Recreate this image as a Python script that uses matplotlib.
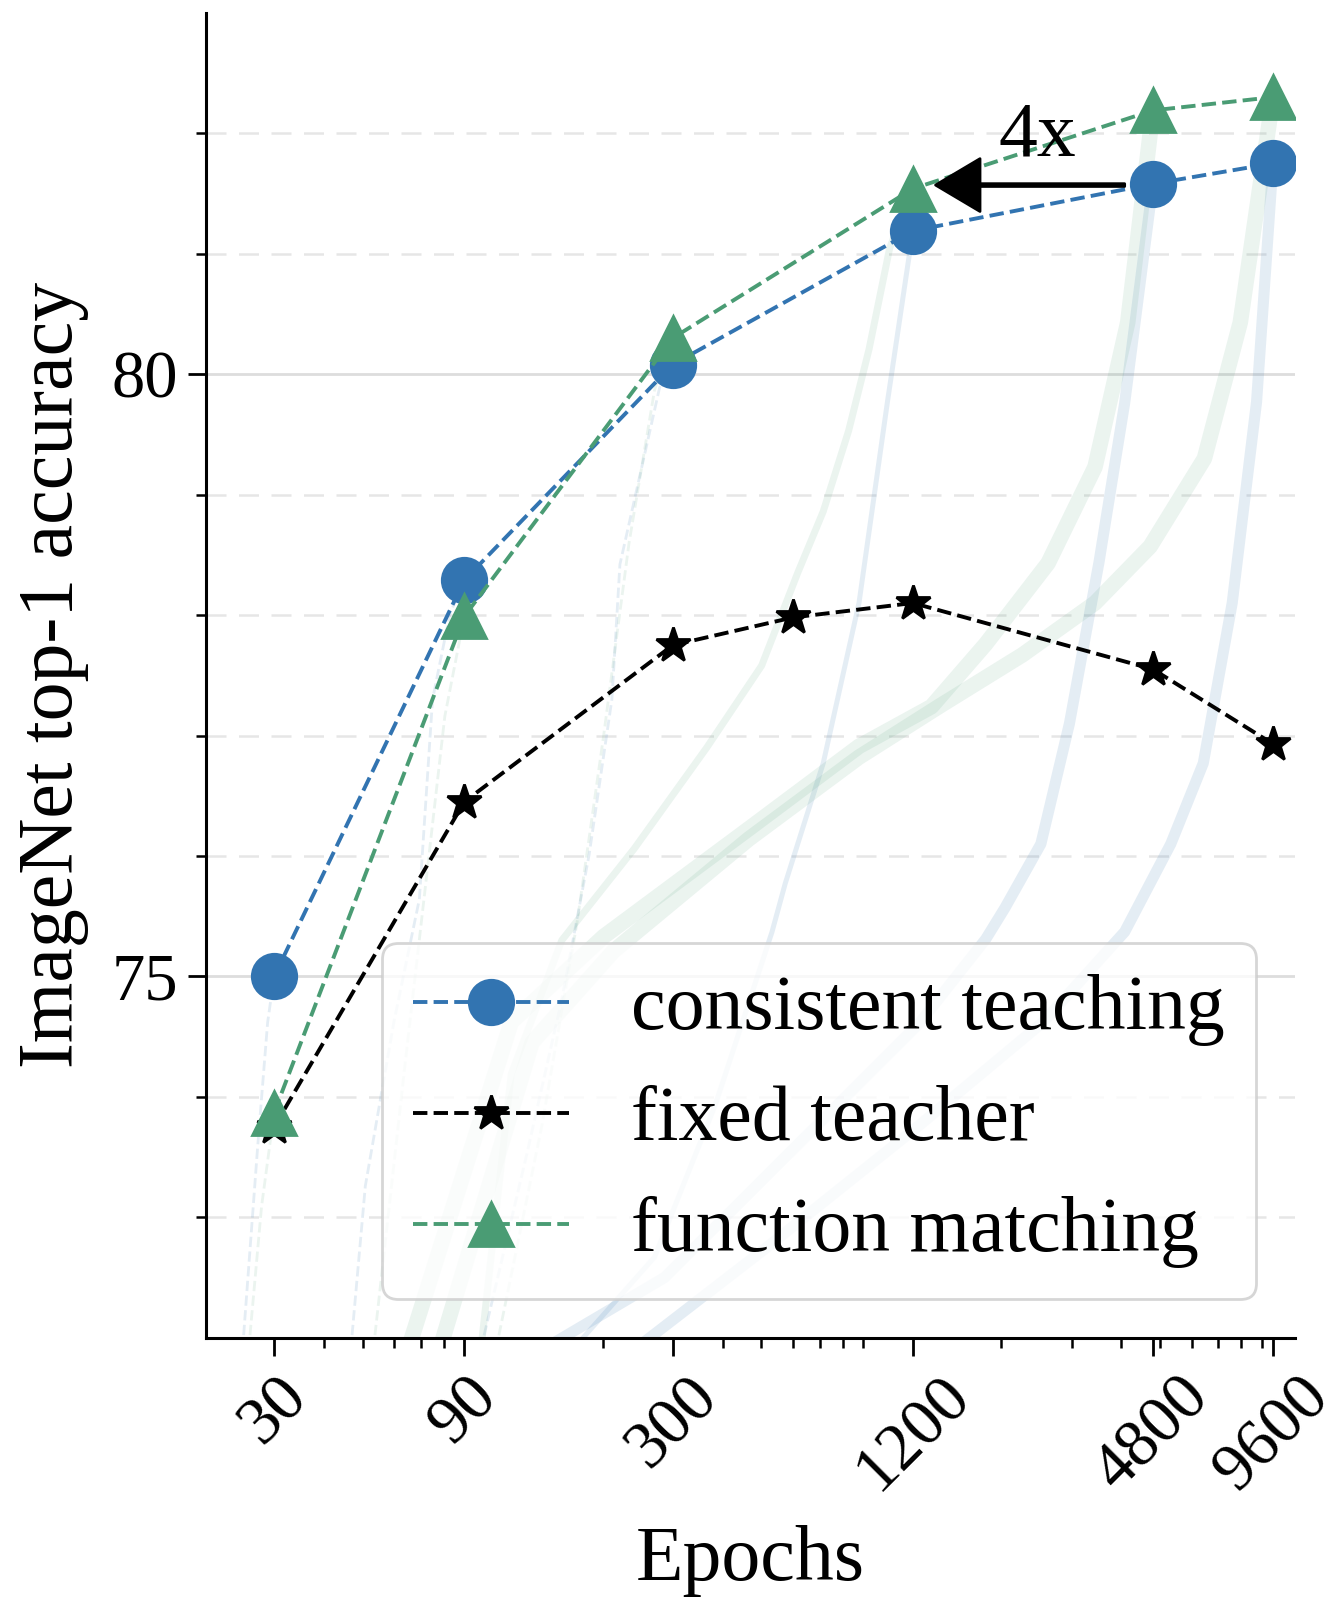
import numpy as np
import matplotlib
matplotlib.use("Agg")
import matplotlib.pyplot as plt
from matplotlib.ticker import FixedLocator, NullFormatter, LogLocator

plt.rcParams['font.family'] = ['Liberation Serif', 'DejaVu Serif']
plt.rcParams['mathtext.fontset'] = 'stix'

BLUE = "#3274b1"
GREEN = "#4a9c74"

epochs = [30, 90, 300, 1200, 4800, 9600]
consistent = [75.0, 78.29, 80.08, 81.19, 81.58, 81.75]
matching = [73.87, 77.99, 80.30, 81.54, 82.19, 82.30]
fixed_epochs = [30, 90, 300, 600, 1200, 4800, 9600]
fixed = [73.75, 76.45, 77.75, 77.98, 78.10, 77.55, 76.93]

# faint training curves (epoch, accuracy)
train_blue = {
    30: ([25.0, 27.3, 28.9, 30], [71.9, 73.60, 74.62, 75.0]),
    90: ([46.7, 50.8, 59.9, 69.4, 74.9, 82.8, 90], [71.9, 73.26, 74.62, 75.64, 77.30, 78.01, 78.29]),
    300: ([98.9, 129, 158, 185, 211, 221, 278, 300], [71.9, 73.52, 74.81, 76.01, 77.30, 78.42, 79.89, 80.08]),
    1200: ([168, 270, 384, 532, 574, 715, 879, 1036, 1200], [71.9, 72.67, 73.94, 75.37, 75.77, 76.77, 78.10, 79.77, 81.19]),
    4800: ([141, 286, 693, 1252, 1828, 2043, 2513, 2964, 3516, 4077, 4800], [71.9, 72.50, 73.77, 74.62, 75.31, 75.57, 76.10, 77.10, 78.44, 79.76, 81.58]),
    9600: ([240, 516, 1252, 2544, 4077, 5322, 6420, 7587, 8733, 9600], [71.9, 72.75, 73.77, 74.62, 75.37, 76.10, 76.77, 78.10, 79.77, 81.75]),
}
train_green = {
    30: ([25.9, 27.9, 30], [71.9, 73.09, 73.87]),
    90: ([53.2, 63.5, 72.7, 80.4, 90], [71.9, 74.19, 75.89, 77.16, 77.99]),
    300: ([108, 141, 173, 201, 233, 270, 300], [71.9, 73.77, 75.47, 76.99, 78.60, 79.87, 80.30]),
    1200: ([99, 118, 158, 240, 365, 501, 617, 715, 828, 932, 1050, 1200], [71.9, 74.19, 75.30, 76.06, 76.90, 77.58, 78.35, 78.86, 79.53, 80.21, 81.05, 81.54]),
    4800: ([65, 118, 201, 467, 879, 1336, 1828, 2619, 3436, 4150, 4800], [71.9, 74.62, 75.33, 76.23, 76.91, 77.24, 77.76, 78.43, 79.23, 80.43, 82.19]),
    9600: ([78, 133, 213, 465, 879, 1409, 2260, 3436, 4725, 6462, 7950, 9600], [71.9, 74.45, 75.21, 76.14, 76.82, 77.25, 77.67, 78.10, 78.57, 79.30, 80.43, 82.30]),
}
band_width = {30: 1.0, 90: 1.0, 300: 1.0, 1200: 1.8, 4800: 4.0, 9600: 4.0}

fig = plt.figure(figsize=(6.72, 8.02), dpi=200)
ax = fig.add_axes([0.153, 0.166, 0.8105, 0.826])

for e in epochs:
    xs, ys = train_blue[e]
    ls = "--" if e <= 300 else "-"
    ax.plot(xs, ys, ls, color=BLUE, alpha=0.13, lw=band_width[e], zorder=1)
    xs, ys = train_green[e]
    gw = band_width[e] * (1.0 if e <= 300 else 1.4)
    ax.plot(xs, ys, ls, color=GREEN, alpha=0.11, lw=gw, zorder=1)

ax.plot(epochs, consistent, "--", color=BLUE, lw=1.4, marker="o", ms=16,
        label="consistent teaching", zorder=4)
ax.plot(fixed_epochs, fixed, "--", color="black", lw=1.4, marker="*", ms=13,
        label="fixed teacher", zorder=3)
ax.plot(epochs, matching, "--", color=GREEN, lw=1.4, marker="^", ms=16,
        label="function matching", zorder=5)

ax.annotate("", xy=(1368, 81.57), xytext=(4077, 81.57),
            arrowprops=dict(facecolor="black", edgecolor="black", width=1.0,
                            headwidth=19, headlength=16, shrink=0),
            zorder=6)
ax.text(2469, 81.97, "4x", fontsize=28, ha="center", va="center", zorder=6)

ax.set_xscale("log")
ax.set_xlim(20.2, 10900)
ax.set_ylim(72, 83)
ax.xaxis.set_major_locator(FixedLocator(epochs))
ax.set_xticklabels([str(e) for e in epochs], rotation=45, ha="center", fontsize=24)
ax.xaxis.set_minor_locator(LogLocator(base=10, subs=np.arange(2, 10)))
ax.xaxis.set_minor_formatter(NullFormatter())
ax.set_yticks([75, 80])
ax.set_yticks([73, 74, 76, 77, 78, 79, 81, 82], minor=True)
ax.tick_params(axis="y", labelsize=24)
ax.tick_params(which="major", length=6.5, width=1.0)
ax.tick_params(which="minor", length=3.6, width=0.9)

ax.grid(True, axis="y", which="major", color="#dddddd", lw=1.0, zorder=0)
ax.grid(True, axis="y", which="minor", color="#e6e6e6", lw=0.9, ls=(0, (8, 5)), zorder=0)
ax.set_axisbelow(True)

for s in ["top", "right"]:
    ax.spines[s].set_visible(False)
for s in ["left", "bottom"]:
    ax.spines[s].set_linewidth(1.1)

ax.set_xlabel("Epochs", fontsize=28, labelpad=8)
ax.set_ylabel("ImageNet top-1 accuracy", fontsize=28, labelpad=8)

leg = ax.legend(loc="lower right", fontsize=28, framealpha=0.8,
                edgecolor="#cccccc", fancybox=True, borderaxespad=0.5)
leg.set_zorder(7)

fig.savefig("out.png", dpi=200)
